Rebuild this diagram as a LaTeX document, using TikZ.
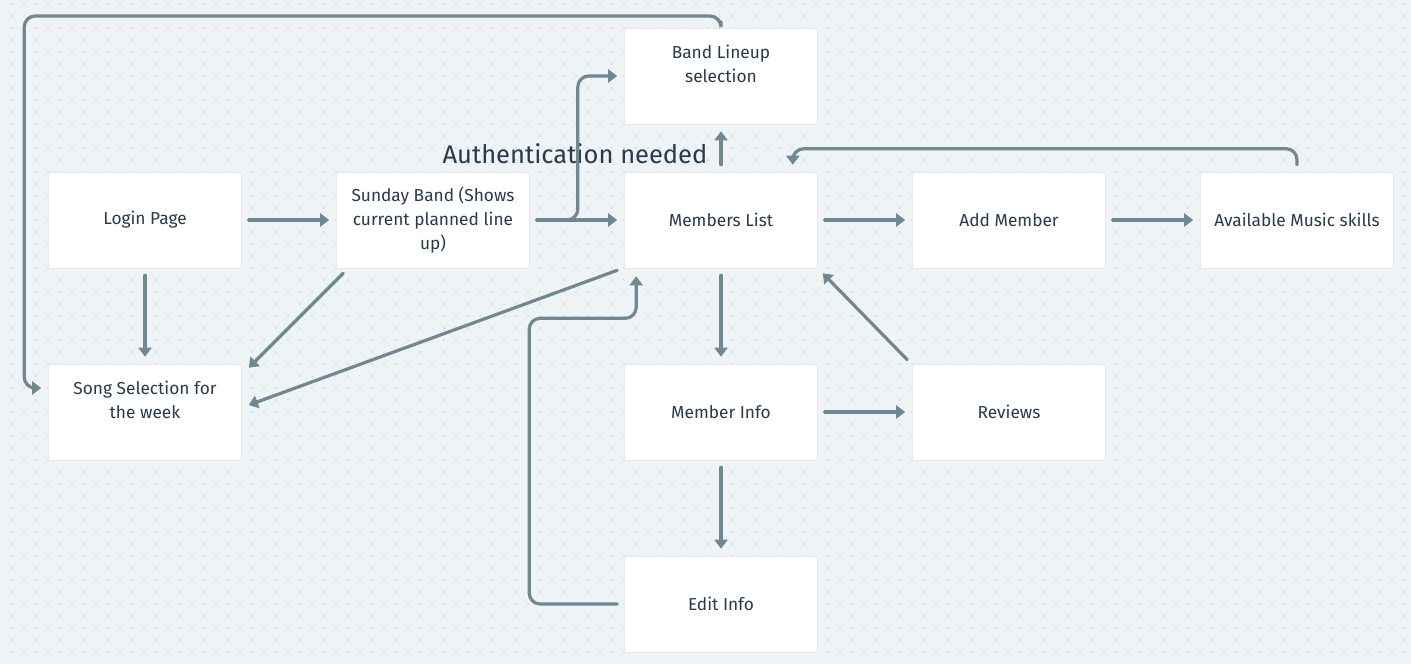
\documentclass[tikz,border=0pt]{standalone}
\usepackage{fontspec}
\setmainfont{Fira Sans}
\usetikzlibrary{arrows.meta,calc}
\definecolor{bg}{HTML}{EEF3F6}
\definecolor{dotc}{HTML}{D9E1E6}
\definecolor{ln}{HTML}{718792}
\definecolor{txt}{HTML}{283A4B}
\definecolor{edge}{HTML}{E4EAEE}
\begin{document}
\begin{tikzpicture}[x=1pt,y=-1pt,
  box/.style={fill=white, draw=edge, line width=0.6pt, minimum width=193pt, minimum height=96pt, inner sep=0pt, text=txt, font=\fontsize{17.3}{24}\selectfont, align=center},
  conn/.style={draw=ln, line width=3.2pt, line cap=round, -{Triangle[length=9pt,width=13pt]}, rounded corners=11pt}]
\fill[bg] (0,0) rectangle (1411,664);
\useasboundingbox (0,0) rectangle (1411,664);
\foreach \x in {12,24,...,1404}
  \foreach \y in {4,16,...,660}
    \fill[dotc] (\x-1,\y-1) rectangle +(2,2);
% boxes
\node[box] (login)   at (145,220)  {Login Page};
\node[box] (sunday)  at (433,220)  {Sunday Band (Shows\\current planned line\\up)};
\node[box] (members) at (721,220)  {Members List};
\node[box] (add)     at (1009,220) {Add Member};
\node[box] (avail)   at (1297,220) {Available Music skills};
\node[box] (lineup)  at (721,76)   {Band Lineup\\selection\\\mbox{}};
\node[box] (song)    at (145,412)  {Song Selection for\\the week\\\mbox{}};
\node[box] (info)    at (721,412)  {Member Info};
\node[box] (reviews) at (1009,412) {Reviews};
\node[box] (edit)    at (721,604)  {Edit Info};
\node[text=txt, font=\fontsize{25.5}{30}\selectfont] (auth) at (575,154) {Authentication needed};
% connectors
\draw[conn] ($(login.east)+(7,0)$) -- ($(sunday.west)+(-7,0)$);
\draw[conn] ($(login.south)+(0,7)$) -- ($(song.north)+(0,-7)$);
\draw[conn] ($(sunday.east)+(7,0)$) -- ($(members.west)+(-7,0)$);
\draw[conn] ($(sunday.east)+(7,0)$) -- ++(41,0) |- ($(lineup.west)+(-7,0)$);
\draw[conn] ($(sunday.south west)+(7,5)$) -- ($(song.north east)+(7,4)$);
\draw[conn] ($(members.south west)+(-7,2)$) -- ($(song.east)+(7,-7)$);
\draw[conn] ($(members.north)+(0,-7)$) -- ($(lineup.south)+(0,7)$);
\draw[conn] ($(members.east)+(7,0)$) -- ($(add.west)+(-7,0)$);
\draw[conn] ($(add.east)+(7,0)$) -- ($(avail.west)+(-7,0)$);
\draw[conn] ($(avail.north)+(0,-7)$) -- ++(0,-16) -| ($(members.north east)+(-25,-7)$);
\draw[conn] ($(members.south)+(0,7)$) -- ($(info.north)+(0,-7)$);
\draw[conn] ($(info.east)+(7,0)$) -- ($(reviews.west)+(-7,0)$);
\draw[conn] ($(reviews.north west)+(-5,-4)$) -- ($(members.south east)+(5,5)$);
\draw[conn] ($(info.south)+(0,7)$) -- ($(edit.north)+(0,-7)$);
\draw[conn] ($(edit.west)+(-7,0)$) -| ($(members.south west)+(-95,50)$) -| ($(members.south west)+(12,8)$);
\draw[conn] ($(lineup.north)+(0,-6)$) |- ($(login.west)+(-24,-204)$) |- ($(song.west)+(-7,-24)$);
\end{tikzpicture}
\end{document}
